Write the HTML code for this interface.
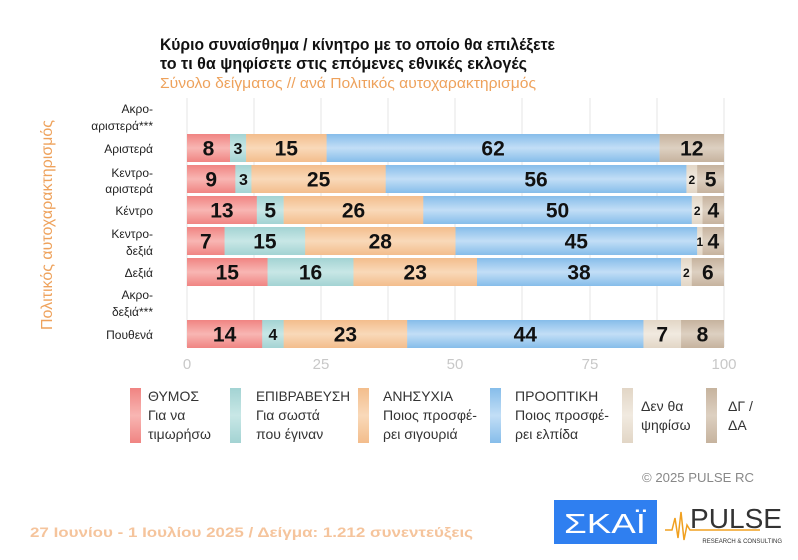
<!DOCTYPE html>
<html><head><meta charset="utf-8"><style>
body{margin:0;background:#fff;}
svg{display:block;}
</style></head><body>
<svg width="798" height="560" viewBox="0 0 798 560" xmlns="http://www.w3.org/2000/svg" font-family="'Liberation Sans',sans-serif">
<defs>
<linearGradient id="gr" x1="0" y1="0" x2="0" y2="1"><stop offset="0" stop-color="#f08482"/><stop offset="0.5" stop-color="#f8b6b3"/><stop offset="1" stop-color="#f08482"/></linearGradient>
<linearGradient id="gt" x1="0" y1="0" x2="0" y2="1"><stop offset="0" stop-color="#a3d3d3"/><stop offset="0.5" stop-color="#c8e7e6"/><stop offset="1" stop-color="#a3d3d3"/></linearGradient>
<linearGradient id="go" x1="0" y1="0" x2="0" y2="1"><stop offset="0" stop-color="#f3bd8c"/><stop offset="0.5" stop-color="#f9d9b9"/><stop offset="1" stop-color="#f3bd8c"/></linearGradient>
<linearGradient id="gb" x1="0" y1="0" x2="0" y2="1"><stop offset="0" stop-color="#86bdea"/><stop offset="0.5" stop-color="#c2def6"/><stop offset="1" stop-color="#86bdea"/></linearGradient>
<linearGradient id="ge" x1="0" y1="0" x2="0" y2="1"><stop offset="0" stop-color="#e2d6c6"/><stop offset="0.5" stop-color="#f1eae0"/><stop offset="1" stop-color="#e2d6c6"/></linearGradient>
<linearGradient id="gd" x1="0" y1="0" x2="0" y2="1"><stop offset="0" stop-color="#c6b39e"/><stop offset="0.5" stop-color="#ddd0c1"/><stop offset="1" stop-color="#c6b39e"/></linearGradient>
</defs>
<text x="160" y="50" font-size="17" font-weight="bold" fill="#111" textLength="395" lengthAdjust="spacingAndGlyphs">Κύριο συναίσθημα / κίνητρο με το οποίο θα επιλέξετε</text>
<text x="160" y="69" font-size="17" font-weight="bold" fill="#111" textLength="367" lengthAdjust="spacingAndGlyphs">το τι θα ψηφίσετε στις επόμενες εθνικές εκλογές</text>
<text x="160" y="88" font-size="15" fill="#eea25c" textLength="376" lengthAdjust="spacingAndGlyphs">Σύνολο δείγματος // ανά Πολιτικός αυτοχαρακτηρισμός</text>
<g stroke="#e4e4e4" stroke-width="1">
<line x1="187" y1="98" x2="187" y2="347"/><line x1="254" y1="98" x2="254" y2="347"/><line x1="321" y1="98" x2="321" y2="347"/><line x1="388" y1="98" x2="388" y2="347"/><line x1="455" y1="98" x2="455" y2="347"/><line x1="522" y1="98" x2="522" y2="347"/><line x1="590" y1="98" x2="590" y2="347"/><line x1="657" y1="98" x2="657" y2="347"/><line x1="724" y1="98" x2="724" y2="347"/>
</g>
<g font-size="15" fill="#c8c8c8" text-anchor="middle">
<text x="187" y="369">0</text><text x="321" y="369">25</text><text x="455" y="369">50</text><text x="590" y="369">75</text><text x="724" y="369">100</text>
</g>
<text transform="translate(52,225) rotate(-90)" font-size="16" fill="#eea25c" text-anchor="middle" textLength="210" lengthAdjust="spacingAndGlyphs">Πολιτικός αυτοχαρακτηρισμός</text>
<g font-size="12" fill="#222" text-anchor="end">
<text x="153" y="113">Ακρο-</text><text x="153" y="130">αριστερά***</text>
<text x="153" y="153">Αριστερά</text>
<text x="153" y="177">Κεντρο-</text><text x="153" y="193">αριστερά</text>
<text x="153" y="215">Κέντρο</text>
<text x="153" y="238">Κεντρο-</text><text x="153" y="255">δεξιά</text>
<text x="153" y="277">Δεξιά</text>
<text x="153" y="299">Ακρο-</text><text x="153" y="316">δεξιά***</text>
<text x="153" y="339">Πουθενά</text>
</g>
<g>
<rect x="187" y="134" width="43.3" height="28" fill="url(#gr)"/>
<rect x="230" y="134" width="16.4" height="28" fill="url(#gt)"/>
<rect x="246.07" y="134" width="80.9" height="28" fill="url(#go)"/>
<rect x="326.6" y="134" width="333.2" height="28" fill="url(#gb)"/>
<rect x="659.6" y="134" width="64.4" height="28" fill="url(#gd)"/>

<rect x="187" y="165" width="48.6" height="28" fill="url(#gr)"/>
<rect x="235.33" y="165" width="16.4" height="28" fill="url(#gt)"/>
<rect x="251.44" y="165" width="134.6" height="28" fill="url(#go)"/>
<rect x="385.69" y="165" width="301" height="28" fill="url(#gb)"/>
<rect x="686.41" y="165" width="11" height="28" fill="url(#ge)"/>
<rect x="697.15" y="165" width="26.85" height="28" fill="url(#gd)"/>

<rect x="187" y="196" width="70.1" height="28" fill="url(#gr)"/>
<rect x="256.81" y="196" width="27.1" height="28" fill="url(#gt)"/>
<rect x="283.66" y="196" width="139.9" height="28" fill="url(#go)"/>
<rect x="423.28" y="196" width="268.8" height="28" fill="url(#gb)"/>
<rect x="691.78" y="196" width="11" height="28" fill="url(#ge)"/>
<rect x="702.52" y="196" width="21.48" height="28" fill="url(#gd)"/>

<rect x="187" y="227" width="37.9" height="28" fill="url(#gr)"/>
<rect x="224.59" y="227" width="80.9" height="28" fill="url(#gt)"/>
<rect x="305.14" y="227" width="150.6" height="28" fill="url(#go)"/>
<rect x="455.5" y="227" width="241.9" height="28" fill="url(#gb)"/>
<rect x="697.15" y="227" width="5.6" height="28" fill="url(#ge)"/>
<rect x="702.52" y="227" width="21.48" height="28" fill="url(#gd)"/>

<rect x="187" y="258" width="80.9" height="28" fill="url(#gr)"/>
<rect x="267.55" y="258" width="86.2" height="28" fill="url(#gt)"/>
<rect x="353.47" y="258" width="123.8" height="28" fill="url(#go)"/>
<rect x="476.98" y="258" width="204.3" height="28" fill="url(#gb)"/>
<rect x="681.04" y="258" width="11" height="28" fill="url(#ge)"/>
<rect x="691.78" y="258" width="32.22" height="28" fill="url(#gd)"/>

<rect x="187" y="320" width="75.5" height="28" fill="url(#gr)"/>
<rect x="262.18" y="320" width="21.8" height="28" fill="url(#gt)"/>
<rect x="283.66" y="320" width="123.8" height="28" fill="url(#go)"/>
<rect x="407.17" y="320" width="236.5" height="28" fill="url(#gb)"/>
<rect x="643.45" y="320" width="37.9" height="28" fill="url(#ge)"/>
<rect x="681.04" y="320" width="42.96" height="28" fill="url(#gd)"/>
</g>
<g font-weight="bold" fill="#111" text-anchor="middle" font-size="21">
<text x="208.5" y="155.5">8</text><text x="238" y="154" font-size="16">3</text><text x="286.3" y="155.5">15</text><text x="493.1" y="155.5">62</text><text x="691.8" y="155.5">12</text>
<text x="211.2" y="186.5">9</text><text x="243.4" y="185" font-size="16">3</text><text x="318.6" y="186.5">25</text><text x="536" y="186.5">56</text><text x="691.8" y="184" font-size="12">2</text><text x="710.6" y="186.5">5</text>
<text x="221.9" y="217.5">13</text><text x="270.2" y="217.5">5</text><text x="353.5" y="217.5">26</text><text x="557.5" y="217.5">50</text><text x="697.2" y="215" font-size="12">2</text><text x="713.3" y="217.5">4</text>
<text x="205.8" y="248.5">7</text><text x="264.9" y="248.5">15</text><text x="380.3" y="248.5">28</text><text x="576.3" y="248.5">45</text><text x="699.8" y="246" font-size="12">1</text><text x="713.3" y="248.5">4</text>
<text x="227.3" y="279.5">15</text><text x="310.5" y="279.5">16</text><text x="415.2" y="279.5">23</text><text x="579" y="279.5">38</text><text x="686.4" y="277" font-size="12">2</text><text x="707.9" y="279.5">6</text>
<text x="224.6" y="341.5">14</text><text x="272.9" y="340" font-size="16">4</text><text x="345.4" y="341.5">23</text><text x="525.3" y="341.5">44</text><text x="662.2" y="341.5">7</text><text x="702.5" y="341.5">8</text>
</g>
<g font-size="14" fill="#333">
<rect x="130" y="388" width="11" height="55" fill="url(#gr)"/>
<text x="148" y="401">ΘΥΜΟΣ</text><text x="148" y="420">Για να</text><text x="148" y="439">τιμωρήσω</text>
<rect x="230" y="388" width="11" height="55" fill="url(#gt)"/>
<text x="256" y="401" textLength="94" lengthAdjust="spacingAndGlyphs">ΕΠΙΒΡΑΒΕΥΣΗ</text><text x="256" y="420">Για σωστά</text><text x="256" y="439">που έγιναν</text>
<rect x="358" y="388" width="11" height="55" fill="url(#go)"/>
<text x="383" y="401">ΑΝΗΣΥΧΙΑ</text><text x="383" y="420" textLength="94" lengthAdjust="spacingAndGlyphs">Ποιος προσφέ-</text><text x="383" y="439">ρει σιγουριά</text>
<rect x="490" y="388" width="11" height="55" fill="url(#gb)"/>
<text x="515" y="401">ΠΡΟΟΠΤΙΚΗ</text><text x="515" y="420" textLength="94" lengthAdjust="spacingAndGlyphs">Ποιος προσφέ-</text><text x="515" y="439">ρει ελπίδα</text>
<rect x="622" y="388" width="11" height="55" fill="url(#ge)"/>
<text x="641" y="411">Δεν θα</text><text x="641" y="430">ψηφίσω</text>
<rect x="706" y="388" width="11" height="55" fill="url(#gd)"/>
<text x="728" y="411">ΔΓ /</text><text x="728" y="430">ΔΑ</text>
</g>
<text x="642" y="482" font-size="13" fill="#888" textLength="112" lengthAdjust="spacingAndGlyphs">©  2025  PULSE RC</text>
<text x="30" y="537" font-size="14" font-weight="bold" fill="#f5c49c" textLength="443" lengthAdjust="spacingAndGlyphs">27 Ιουνίου - 1 Ιουλίου 2025  /  Δείγμα:  1.212 συνεντεύξεις</text>
<rect x="554" y="500" width="103" height="44" fill="#2f7ff0"/>
<text x="605" y="533" font-size="28" fill="#fff" text-anchor="middle" textLength="82" lengthAdjust="spacingAndGlyphs">ΣΚΑΪ</text>
<polyline points="665,530 672,530 675,518 678,538 681,512 684,540 687,525 690,530 760,530" fill="none" stroke="#f0a020" stroke-width="1.5"/>
<text x="690" y="528" font-size="28" fill="#333" textLength="92" lengthAdjust="spacingAndGlyphs">PULSE</text>
<text x="782" y="543" font-size="6" fill="#333" text-anchor="end">RESEARCH &amp; CONSULTING</text>
</svg>
</body></html>
